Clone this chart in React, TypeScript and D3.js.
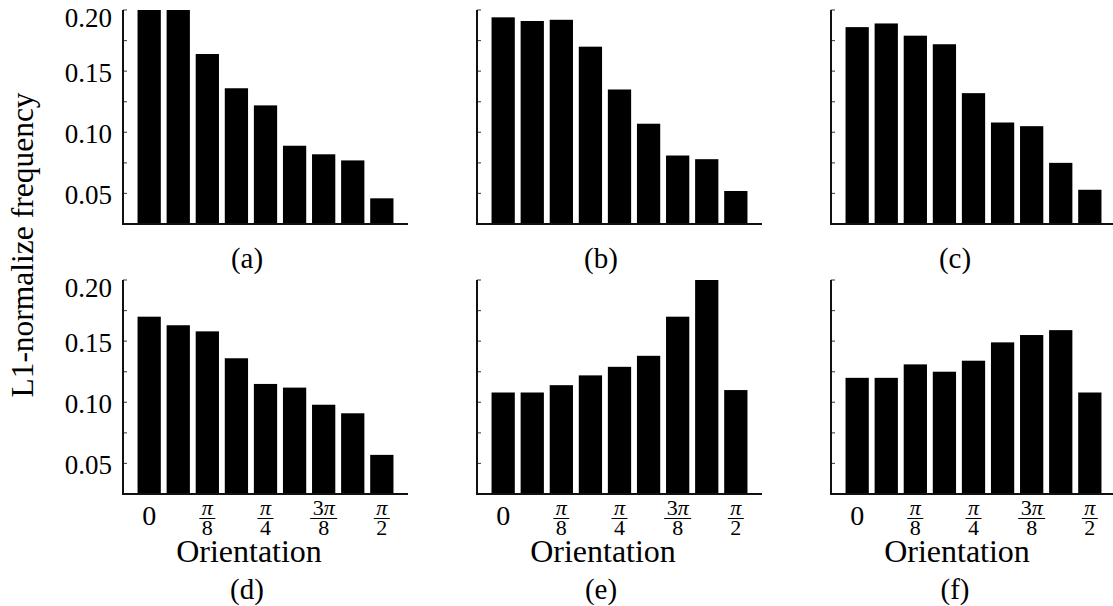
import React from "react";
import * as d3 from "d3";

// orientation bins (9 bars per panel)
const bins = ["b0", "b1", "b2", "b3", "b4", "b5", "b6", "b7", "b8"];

// bar heights
const panelA = [0.2, 0.2, 0.164, 0.136, 0.122, 0.089, 0.082, 0.077, 0.046];
const panelB = [0.194, 0.191, 0.192, 0.17, 0.135, 0.107, 0.081, 0.078, 0.052];
const panelC = [0.186, 0.189, 0.179, 0.172, 0.132, 0.108, 0.105, 0.075, 0.053];
const panelD = [0.17, 0.163, 0.158, 0.136, 0.115, 0.112, 0.098, 0.091, 0.057];
const panelE = [0.108, 0.108, 0.114, 0.122, 0.129, 0.138, 0.17, 0.2, 0.11];
const panelF = [0.12, 0.12, 0.131, 0.125, 0.134, 0.149, 0.155, 0.159, 0.108];

const captions = ["(a)", "(b)", "(c)", "(d)", "(e)", "(f)"];

// y ticks: labelled majors and unlabelled minors
const majorTicks = [0.05, 0.1, 0.15, 0.2];
const minorTicks = [0.075, 0.125, 0.175];

// x tick labels as fractions: [numerator, denominator] ("" denominator = plain)
const xTickBins = ["b0", "b2", "b4", "b6", "b8"];
const xTickLabels = [["0", ""], ["π", "8"], ["π", "4"], ["3π", "8"], ["π", "2"]];

const font = "Liberation Serif";

const panels = [panelA, panelB, panelC, panelD, panelE, panelF];

const colX = [123, 477, 831];
const rowY = [10, 280];
const plotW = 285;
const plotH = 214;

function Panel({ values, caption, x0, y0, showY, showX }: any) {
  const x = d3.scaleBand().domain(bins).range([x0, x0 + plotW]).paddingInner(0.2).paddingOuter(0.5);
  const y = d3.scaleLinear().domain([0.025, 0.2]).range([y0 + plotH, y0]);
  const base = y0 + plotH;
  const cx = x0 + 126;

  return (
    <g>
      {values.map((v: number, i: number) => (
        <rect key={i} x={x(bins[i])} y={y(v)} width={x.bandwidth()} height={base - y(v)} fill="#000" />
      ))}
      {[...majorTicks, ...minorTicks].map((t) => (
        <line key={t} x1={x0} x2={x0 + 4} y1={y(t)} y2={y(t)} stroke="#555" strokeWidth={1.2} />
      ))}
      <line x1={x0} x2={x0} y1={y0} y2={base + 1} stroke="#111" strokeWidth={2} />
      <line x1={x0 - 1} x2={x0 + plotW} y1={base} y2={base} stroke="#111" strokeWidth={2} />
      {showY &&
        majorTicks.map((t, i) => (
          <text key={t} x={x0 - 11} y={y(t) + (i === majorTicks.length - 1 ? 8 : 1)} dy="0.35em"
            textAnchor="end" fontSize={27} fontFamily={font}>
            {d3.format(".2f")(t)}
          </text>
        ))}
      {showX &&
        xTickBins.map((b, i) => {
          const bx = (x(b) as number) + x.bandwidth() / 2;
          const [num, den] = xTickLabels[i];
          if (!den) {
            return (
              <text key={b} x={bx} y={base + 31} textAnchor="middle" fontSize={28} fontFamily={font}>{num}</text>
            );
          }
          const lw = num.length > 1 ? 27 : 16;
          return (
            <g key={b}>
              <text x={bx} y={base + 21} textAnchor="middle" fontSize={22} fontFamily={font} fontStyle="italic">
                {num.length > 1 ? <><tspan fontStyle="normal">{num[0]}</tspan>{num.slice(1)}</> : num}
              </text>
              <line x1={bx - lw / 2} x2={bx + lw / 2} y1={base + 24.5} y2={base + 24.5} stroke="#000" strokeWidth={1} />
              <text x={bx} y={base + 41} textAnchor="middle" fontSize={22} fontFamily={font}>{den}</text>
            </g>
          );
        })}
      {showX && (
        <text x={cx} y={base + 68} textAnchor="middle" fontSize={32} fontFamily={font}>Orientation</text>
      )}
      <text x={cx - 2} y={showX ? base + 105 : base + 44} textAnchor="middle" fontSize={29} fontFamily={font}>
        {caption}
      </text>
    </g>
  );
}

export default function App() {
  return (
    <svg width={1113} height={606} style={{ position: "absolute", left: 0, top: 0, background: "#fff" }}>
      <text transform="translate(33,245) rotate(-90)" textAnchor="middle" fontSize={31.5} fontFamily={font}>
        L1-normalize frequency
      </text>
      {panels.map((vals, i) => (
        <Panel key={i} values={vals} caption={captions[i]} x0={colX[i % 3]} y0={rowY[Math.floor(i / 3)]}
          showY={i % 3 === 0} showX={i >= 3} />
      ))}
    </svg>
  );
}
